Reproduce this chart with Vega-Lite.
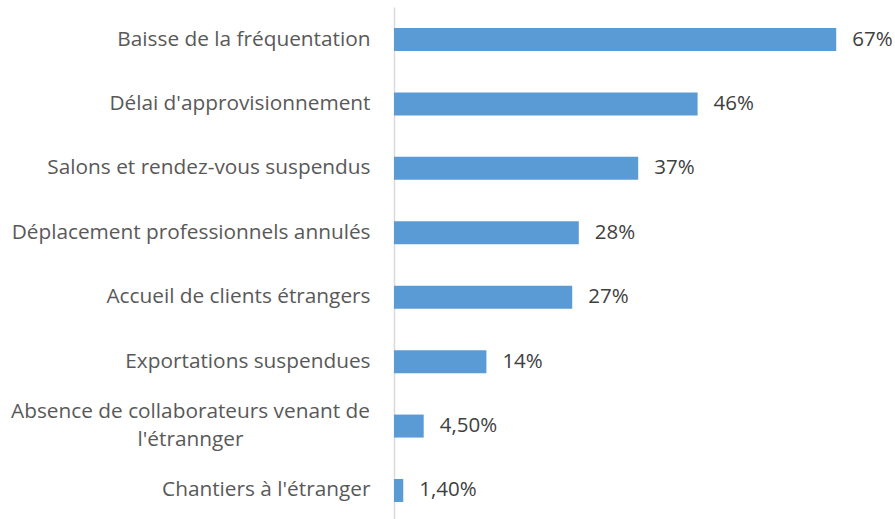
{
  "$schema": "https://vega.github.io/schema/vega-lite/v6.json",
  "autosize": "none",
  "width": 462,
  "height": 516,
  "padding": {"left": 394, "top": 7, "right": 39, "bottom": 0},
  "background": "white",
  "config": {"view": {"stroke": null}, "font": "Open Sans"},
  "data": {
    "values": [
      {"key": "a", "value": 67, "label": "67%"},
      {"key": "b", "value": 46, "label": "46%"},
      {"key": "c", "value": 37, "label": "37%"},
      {"key": "d", "value": 28, "label": "28%"},
      {"key": "e", "value": 27, "label": "27%"},
      {"key": "f", "value": 14, "label": "14%"},
      {"key": "g", "value": 4.5, "label": "4,50%"},
      {"key": "h", "value": 1.4, "label": "1,40%"}
    ]
  },
  "encoding": {
    "y": {
      "field": "key",
      "type": "nominal",
      "sort": null,
      "scale": {"paddingInner": 0.643, "paddingOuter": 0.326},
      "axis": {
        "title": null,
        "ticks": false,
        "labelFontSize": 20.8,
        "labelColor": "#595959",
        "labelLimit": 400,
        "labelLineHeight": 28,
        "domainColor": "#d9d9d9",
        "domainWidth": 1.5,
        "labelAlign": {"condition": {"test": "datum.value === 'g'", "value": "center"}, "value": "right"},
        "labelPadding": {"condition": {"test": "datum.value === 'g'", "value": 204}, "value": 24},
        "labelOffset": {"condition": {"test": "datum.value === 'g'", "value": -14}, "value": 0},
        "labelExpr": "{'a':'Baisse de la fréquentation','b':'Délai d\\'approvisionnement','c':'Salons et rendez-vous suspendus','d':'Déplacement professionnels annulés','e':'Accueil de clients étrangers','f':'Exportations suspendues','g':['Absence de collaborateurs venant de','l\\'étrannger'],'h':'Chantiers à l\\'étranger'}[datum.value]"
      }
    },
    "x": {
      "field": "value",
      "type": "quantitative",
      "scale": {"domain": [0, 70]},
      "axis": null
    }
  },
  "layer": [
    {"mark": {"type": "bar", "color": "#5B9BD5"}},
    {
      "mark": {"type": "text", "align": "left", "baseline": "middle", "dx": 16, "fontSize": 20.5, "color": "#404040"},
      "encoding": {"text": {"field": "label"}}
    }
  ]
}
